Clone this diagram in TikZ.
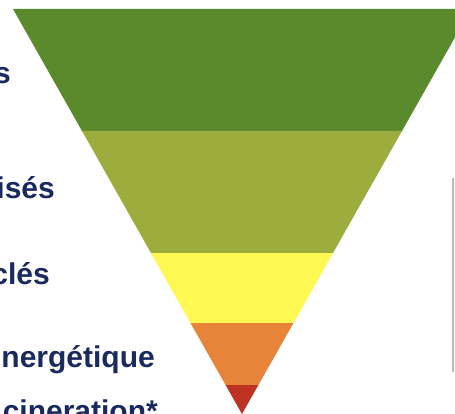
\documentclass[tikz,border=0pt]{standalone}
\usepackage{fontspec}
\setmainfont{Liberation Sans}
\definecolor{bandA}{HTML}{5B8A2D}
\definecolor{bandB}{HTML}{9DAD3D}
\definecolor{bandC}{HTML}{FFF852}
\definecolor{bandD}{HTML}{E8833A}
\definecolor{bandE}{HTML}{BF3122}
\definecolor{labelnavy}{HTML}{1B2A5E}
\begin{document}
\begin{tikzpicture}[x=1pt,y=-1pt,
  lbl/.style={anchor=base east,inner sep=0pt,text=labelnavy,font=\fontsize{30}{36}\selectfont\bfseries}]
\useasboundingbox (0,0) rectangle (455,414);
\clip (0,0) rectangle (455,414);
\fill[white] (0,0) rectangle (455,414);
% bands
\fill[bandA] (13,9) -- (471,9) -- (402,131) -- (82,131) -- cycle;
\fill[bandB] (82,131) -- (402,131) -- (333,253) -- (151,253) -- cycle;
\fill[bandC] (151,253) -- (333,253) -- (293.5,323) -- (190.5,323) -- cycle;
\fill[bandD] (190.5,323) -- (293.5,323) -- (258.4,385) -- (225.6,385) -- cycle;
\fill[bandE] (225.6,385) -- (258.4,385) -- (242,414) -- cycle;
% faint grey edge at right
\draw[gray!55,line width=1.2pt] (453,178) -- (453,372);
% labels
\node[lbl] (l1) at (11,84) {s};
\node[lbl] (l2) at (55,199) {isés};
\node[lbl] (l3) at (50,284) {clés};
\node[lbl] (l4) at (155,367) {nergétique};
\node[lbl] (l5) at (158,421) {cineration*};
\end{tikzpicture}
\end{document}
